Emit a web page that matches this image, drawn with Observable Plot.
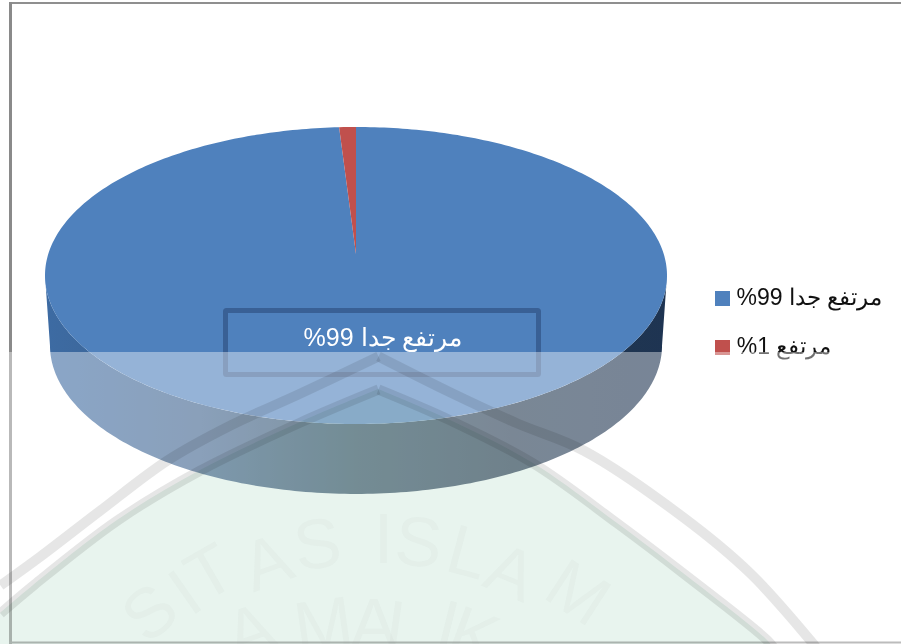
<!DOCTYPE html>
<html><head><meta charset="utf-8">
<script src="https://cdn.jsdelivr.net/npm/d3@7"></script>
<script src="https://cdn.jsdelivr.net/npm/@observablehq/plot@0.6"></script>
<style>html,body{margin:0;padding:0;background:#fff}svg{display:block}</style>
</head><body><div id="chart"></div>
<script>
const categories = ["مرتفع جدا", "مرتفع"];
const values = [99, 1];
const percentLabels = ["%99", "%1"];
const colors = ["#4F81BD", "#C0504D"];
const k = 0.145;
const N = 360;
function proj(u, v, scale = 1, dy = 0) {
  const w = 1 + k * v;
  return [scale * Math.sqrt(1 - k * k) * u / w, v / w - dy];
}
function arc(f0, f1) {
  const n = Math.max(4, Math.ceil(Math.abs(f1 - f0) * N));
  return d3.range(n + 1).map(i => {
    const a = 2 * Math.PI * (f0 + (f1 - f0) * i / n);
    return proj(Math.sin(a), Math.cos(a));
  });
}
const total = d3.sum(values);
let acc = 0;
const wedges = values.map((val, i) => {
  const pts = arc(acc / total, (acc + val) / total);
  acc += val;
  return pts.map(p => ({x1: 0, y1: 0, x2: p[0], y2: p[1], cat: i}));
});
const a0 = Math.asin(k);
const side = d3.range(0, 181, 1).map(d => {
  const a = a0 + (Math.PI - 2 * a0) * d / 180;
  const t = proj(Math.cos(a), -Math.sin(a));
  const b = proj(Math.cos(a), -Math.sin(a), 0.984, 0.481);
  return {x1: t[0], y1: t[1], x2: b[0], y2: b[1]};
});
const outerLeft = [[0,585],[40,556],[100,510],[167,460],[230,425],[300,393],[378,356]];
const outerRight = [[378,356],[450,392],[517,423],[583,450],[683,517],[750,573],[810,640],[818,650]];
const innerLeft = [[0,613],[33,585],[117,520],[200,470],[300,422],[378,389]];
const innerRight = [[378,389],[450,420],[533,463],[617,523],[683,573],[767,640],[775,650]];
const W = 901, H = 644;
const wmText = [
  ["S",150,613,-40],["I",185,593,-35],["T",210,573,-30],["A",267,563,-20],["S",317,545,-8],
  ["I",383,540,0],["S",418,543,5],["L",467,553,15],["A",510,573,22],["M",577,593,33],
  ["A",250,632,-20],["M",323,625,-8],["A",373,625,0],["L",405,628,8],["I",447,626,14],["K",473,636,20]
];
const defs = () => {
  const d = d3.create("svg:defs");
  const g = d.append("linearGradient").attr("id","side").attr("gradientUnits","userSpaceOnUse")
    .attr("x1",45).attr("x2",667).attr("y1",0).attr("y2",0);
  [[0,"#3D6BA3"],[0.25,"#3C618C"],[0.5,"#2A4A60"],[0.75,"#22384F"],[1,"#1E3452"]].forEach(s =>
    g.append("stop").attr("offset",s[0]).attr("stop-color",s[1]));
  return d.node();
};
const fontFamily = "'Liberation Sans', Arial, sans-serif";
const label = i => percentLabels[i] + " " + categories[i];
const bandLine = pts => Plot.line(pts, {x: d => d[0], y: d => d[1], stroke: "#666", strokeOpacity: 0.16, strokeWidth: 10, strokeLinecap: "butt", mixBlendMode: "multiply", curve: "catmull-rom"});
const greenArea = pts => Plot.areaY(pts, {x: d => d[0], y1: d => d[1], y2: H, fill: "#E8F4EE", mixBlendMode: "multiply", curve: "catmull-rom"});
function frameAndExtras() {
  const overlay = Plot.plot({
    width: W, height: H, margin: 0,
    style: {fontFamily, background: "transparent", overflow: "visible"},
    x: {type: "identity", axis: null}, y: {type: "identity", axis: null},
    marks: [
      Plot.rect([0], {x1: 225.5, x2: 538.5, y1: 310.5, y2: 374.5, stroke: "#1F3864", strokeOpacity: 0.45, strokeWidth: 5, fill: "none", rx: 1}),
      Plot.text([0], {x: 382.5, y: 337, text: () => label(0), fill: "#fff", fontSize: 25, textAnchor: "middle"}),
      Plot.ruleY([2.5], {x1: 9, x2: 901, stroke: "#8f8f8f", strokeWidth: 2}),
      Plot.ruleX([10], {y1: 2, y2: 644, stroke: "#8a8a8a", strokeWidth: 3}),
      Plot.ruleY([642], {x1: 9, x2: 901, stroke: "#8f8f8f", strokeWidth: 2}),
      Plot.rect(values, {x1: 715, x2: 730, y1: (d, i) => 291 + 49 * i, y2: (d, i) => 306 + 49 * i, fill: (d, i) => colors[i]}),
      Plot.text(values, {x: (d, i) => [809, 783.5][i], y: (d, i) => 297 + 49 * i, text: (d, i) => label(i), fill: "#111", fontSize: 23, textAnchor: "middle"}),
      Plot.rect([0], {x1: 0, x2: W, y1: 352, y2: H, fill: "#fff", fillOpacity: 0.4}),
      greenArea(innerLeft),
      greenArea(innerRight),
      bandLine(outerLeft),
      bandLine(outerRight),
      bandLine(innerLeft),
      bandLine(innerRight),
      Plot.text(wmText, {x: d => d[1], y: d => d[2], text: d => d[0], rotate: d => d[3], fontSize: 70, fill: "#888", fillOpacity: 0.045, textAnchor: "middle"})
    ]
  });
  const g = d3.create("svg:g");
  Array.from(overlay.childNodes).forEach(n => { if (n.nodeName !== "style") g.node().appendChild(n); });
  return g.node();
}
const plot = Plot.plot({
  width: W, height: H, margin: 0,
  style: {fontFamily, background: "#fff"},
  x: {domain: [-1, 1], range: [45, 667], axis: null},
  y: {domain: [1 / (1 + k), -1 / (1 - k)], range: [127, 424], axis: null},
  marks: [
    defs,
    Plot.area(side, {x1: "x1", y1: "y1", x2: "x2", y2: "y2", fill: "url(#side)"}),
    ...wedges.map((w, i) => Plot.area(w, {x1: "x1", y1: "y1", x2: "x2", y2: "y2", fill: colors[i]})),
    frameAndExtras
  ]
});
document.getElementById("chart").appendChild(plot);
</script></body></html>
